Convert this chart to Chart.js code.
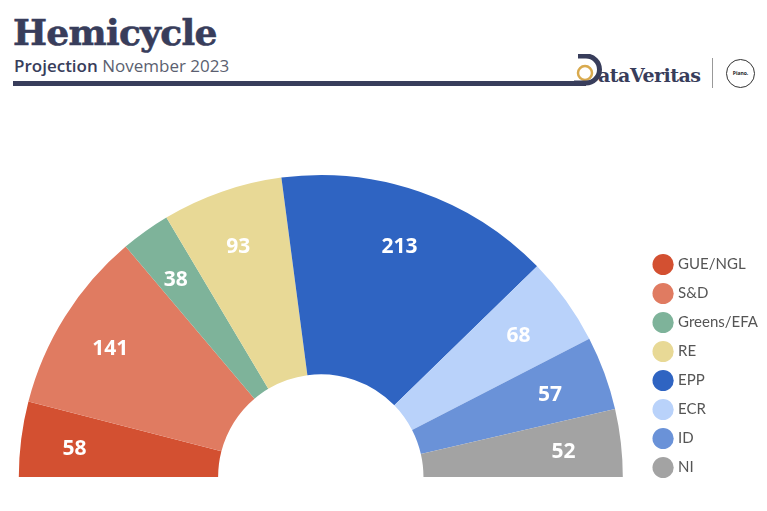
<!DOCTYPE html>
<html>
<head>
<meta charset="utf-8">
<script src="https://cdn.jsdelivr.net/npm/chart.js@4.4.0/dist/chart.umd.min.js"></script>
<style>
  body { margin: 0; background: #fff; width: 767px; height: 511px; overflow: hidden; position: relative; font-family: "Open Sans", sans-serif; }
  .title { position: absolute; left: 13px; top: 11px; font-family: "DejaVu Serif", serif; font-weight: bold; font-size: 36px; color: #383d5b; letter-spacing: -0.7px; -webkit-text-stroke: 0.6px #383d5b; }
  .sub { position: absolute; left: 14px; top: 54px; font-size: 17px; color: #5b5f70; }
  .sub b { font-weight: 600; color: #383d5b; }
  .rule { position: absolute; left: 13px; top: 81px; width: 573px; height: 5px; background: #383d5b; }
  .logo { position: absolute; left: 574px; top: 54px; }
  .sep { position: absolute; left: 712px; top: 58px; width: 1px; height: 30px; background: #999; }
  .piano { position: absolute; left: 726px; top: 59px; width: 27px; height: 27px; border: 1px solid #333; border-radius: 50%; font-size: 5px; font-weight: bold; line-height: 27px; text-align: center; color: #222; }
  #wrap { position: absolute; left: 0; top: 0; width: 767px; height: 511px; }
</style>
</head>
<body>
<div class="title">Hemicycle</div>
<div class="sub"><b>Projection</b> November 2023</div>
<div class="rule"></div>
<svg class="logo" width="130" height="36" viewBox="0 0 130 36">
  <circle cx="11" cy="19" r="7" fill="none" stroke="#d9aa4e" stroke-width="2.5"/>
  <path d="M-10 29 L12 29 A13.5 13.5 0 0 0 12 2 L4 2" fill="none" stroke="#383d5b" stroke-width="5"/>
  <text x="24" y="28" font-family="DejaVu Serif" font-weight="bold" font-size="19" fill="#383d5b" letter-spacing="-0.5">ataVeritas</text>
</svg>
<div class="sep"></div>
<div class="piano">Piano.</div>
<div id="wrap"><canvas id="hemi"></canvas></div>
<script>
// hemicycle data
var groups = ['GUE/NGL', 'S&D', 'Greens/EFA', 'RE', 'EPP', 'ECR', 'ID', 'NI'];
var seats = [58, 141, 38, 93, 213, 68, 57, 52];
var colors = ['#d35031', '#e07b61', '#7eb39a', '#e8d996', '#2f64c2', '#b9d2fa', '#6a92d8', '#a3a3a3'];

// numbers inside the slices
var seatLabels = {
  id: 'seatLabels',
  afterDatasetsDraw: function(chart) {
    var ctx = chart.ctx;
    var meta = chart.getDatasetMeta(0);
    ctx.save();
    ctx.font = 'bold 21px "Open Sans"';
    ctx.fillStyle = '#fff';
    ctx.textAlign = 'center';
    ctx.textBaseline = 'middle';
    meta.data.forEach(function(arc, i) {
      var p = arc.getProps(['x', 'y', 'startAngle', 'endAngle', 'innerRadius', 'outerRadius'], true);
      var a = (p.startAngle + p.endAngle) / 2;
      var r = p.innerRadius + 0.72 * (p.outerRadius - p.innerRadius);
      ctx.fillText(seats[i], p.x + Math.cos(a) * r - 2, p.y + Math.sin(a) * r + 3);
    });
    ctx.restore();
  }
};

var chart = new Chart(document.getElementById('hemi'), {
  type: 'doughnut',
  data: {
    labels: groups,
    datasets: [{
      data: seats,
      backgroundColor: colors,
      borderWidth: 0
    }]
  },
  options: {
    responsive: true,
    maintainAspectRatio: false,
    animation: false,
    rotation: -90,
    circumference: 180,
    radius: 302,
    cutout: '34%',
    layout: { padding: { left: -1, right: -1, top: 163, bottom: 22 } },
    plugins: {
      tooltip: { enabled: false },
      legend: {
        position: 'right',
        align: 'end',
        labels: {
          usePointStyle: true,
          pointStyle: 'circle',
          boxWidth: 15,
          boxHeight: 15,
          padding: 14,
          color: '#555',
          font: { family: 'Lato', size: 15 }
        }
      }
    }
  },
  plugins: [seatLabels]
});
</script>
</body>
</html>
